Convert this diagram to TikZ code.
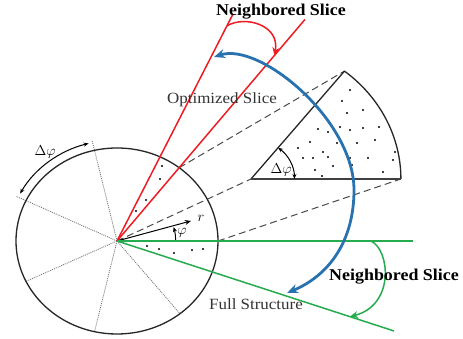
\documentclass[tikz,border=0pt]{standalone}
\usepackage{fontspec}
\setmainfont{Liberation Serif}
\usetikzlibrary{arrows.meta,calc}
\definecolor{myred}{RGB}{236,30,36}
\definecolor{mygreen}{RGB}{38,172,78}
\definecolor{myblue}{RGB}{41,114,176}
\definecolor{dashgray}{RGB}{75,75,75}
\begin{document}
\begin{tikzpicture}[x=1pt,y=1pt,
  redline/.style={myred, line width=1.5pt},
  greenline/.style={mygreen, line width=1.5pt},
  dashline/.style={dashgray, line width=1pt, dash pattern=on 7pt off 4pt},
  radial/.style={black!55, line width=0.8pt, dash pattern=on 1pt off 1pt},
  outline/.style={black!85, line width=1.3pt},
  bluearrow/.style={myblue, line width=2.8pt, {Stealth[length=11pt,width=9pt]}-{Stealth[length=11pt,width=9pt]}},
  smallarc/.style={black, line width=1pt},
  tinytip/.style={{Stealth[length=5pt,width=4pt]}-{Stealth[length=5pt,width=4pt]}},
  boldlbl/.style={font=\fontsize{16.5}{18}\selectfont\bfseries, inner sep=0pt},
  plainlbl/.style={font=\fontsize{15.6}{18}\selectfont, inner sep=0pt, text=black!80},
  mathlbl/.style={font=\fontsize{14}{16}\selectfont, inner sep=0pt},
]
\useasboundingbox[fill=white] (0,0) rectangle (463,339);
\coordinate (C) at (117,98);
\coordinate (A) at (251,160);
% circle frame
\begin{scope}[shift={(C)}, xscale=1.086]
  \coordinate (r1) at (64.8:251);
  \coordinate (r2) at (52:281);
  \coordinate (g1) at (0:272.6);
  \coordinate (g2) at (-19.43:270.5);
  \coordinate (rc) at (52:93);
  \coordinate (gc) at (0:93);
  \coordinate (rt) at (16.4:71);
  \coordinate (u1) at (102.86:103);
  \coordinate (u2) at (154.29:103);
  \coordinate (u3) at (205.71:93);
  \coordinate (u4) at (257.14:93);
  \coordinate (u5) at (308.57:93);
\end{scope}
\begin{scope}[shift={(A)}, xscale=1.086]
  \coordinate (s0) at (0:138);
  \coordinate (s1) at (51.43:138);
\end{scope}
% dashed magnification lines
\draw[dashline] (rc) -- (s1);
\draw[dashline] (C) -- (A);
\draw[dashline] (gc) -- (s0);
% radial dotted lines
\foreach \u in {u1,u2,u3,u4,u5} \draw[radial] (C) -- (\u);
% circle and arcs in circle frame
\begin{scope}[shift={(C)}, xscale=1.086]
  \draw[outline] (0,0) circle (93);
  \draw[smallarc, tinytip] (152:101) arc[start angle=152, end angle=105, radius=101];
  \draw[smallarc, -{Stealth[length=5pt,width=4pt]}] (0:54) arc[start angle=0, end angle=15, radius=54];
\end{scope}
% enlarged slice
\begin{scope}[shift={(A)}, xscale=1.086]
  \draw[outline, line join=round] (s0) arc[start angle=0, end angle=51.43, radius=138] -- (0,0);
  \draw[black!75, line width=1.8pt] (0,0) -- (s0);
  \draw[smallarc, tinytip] (0:40) arc[start angle=0, end angle=51.43, radius=40];
\end{scope}
% dots in enlarged slice
\foreach \x/\y in {350/90, 342/101, 347/113, 363/110, 318/129, 328/132, 340/127, 350/130,
  363/128, 379/127, 310/142, 298/148, 323/152, 337/143, 357/143, 375/140, 303/158,
  313/158, 328/157, 350/158, 368/158, 393/160, 315/170, 333/166, 352/165, 383/172,
  322/176, 395/152}
  \fill (\x,339-\y) circle (1.1);
% dots in small slices
\foreach \x/\y in {162/166, 160/179, 146/200, 136/211, 147/246, 159/249, 174/253, 192/250, 203/249}
  \fill (\x,339-\y) circle (1.1);
% r arrow
\draw[smallarc, -{Stealth[length=6pt,width=5pt]}] (C) -- (rt);
% red and green lines
\draw[redline] (C) -- (r1);
\draw[redline] (C) -- (r2);
\draw[greenline] (C) -- (g1);
\draw[greenline] (C) -- (g2);
% red curved arrow
\coordinate (ra0) at ($(C)!0.947!(r1)$);
\coordinate (ra1) at ($(C)!0.838!(r2)$);
\draw[redline, -{Stealth[length=8pt,width=7pt]}] (ra0) .. controls (245,324) and (280,314) .. (ra1);
% green curved arrow
\coordinate (ga0) at ($(C)!0.858!(g1)$);
\coordinate (ga1) at ($(C)!0.841!(g2)$);
\draw[greenline, -{Stealth[length=8pt,width=7pt]}] (ga0) .. controls (390,89) and (395,34) .. (ga1);
% blue arrow
\coordinate (b0) at (214,282);
\coordinate (bm) at (354,149);
\coordinate (b1) at (287,46);
\draw[bluearrow] (b0) .. controls (260,297) and (354,219) .. (bm) .. controls (354,99) and (330,64) .. (b1);
% labels
\node[boldlbl] (t1) at (281,327) {\scalebox{1.086}[1]{Neighbored Slice}};
\node[plainlbl] (t2) at (222,239) {\scalebox{1.086}[1]{Optimized Slice}};
\node[plainlbl] (t3) at (256,35) {\scalebox{1.086}[1]{Full Structure}};
\node[boldlbl] (t4) at (394,62) {\scalebox{1.086}[1]{Neighbored Slice}};
\node[mathlbl] (t5) at (45,187) {$\Delta\varphi$};
\node[mathlbl] (t6) at (281,169) {$\Delta\varphi$};
\node[mathlbl] (t7) at (201,121) {$r$};
\node[mathlbl] (t8) at (182,106) {$\varphi$};
\end{tikzpicture}
\end{document}
